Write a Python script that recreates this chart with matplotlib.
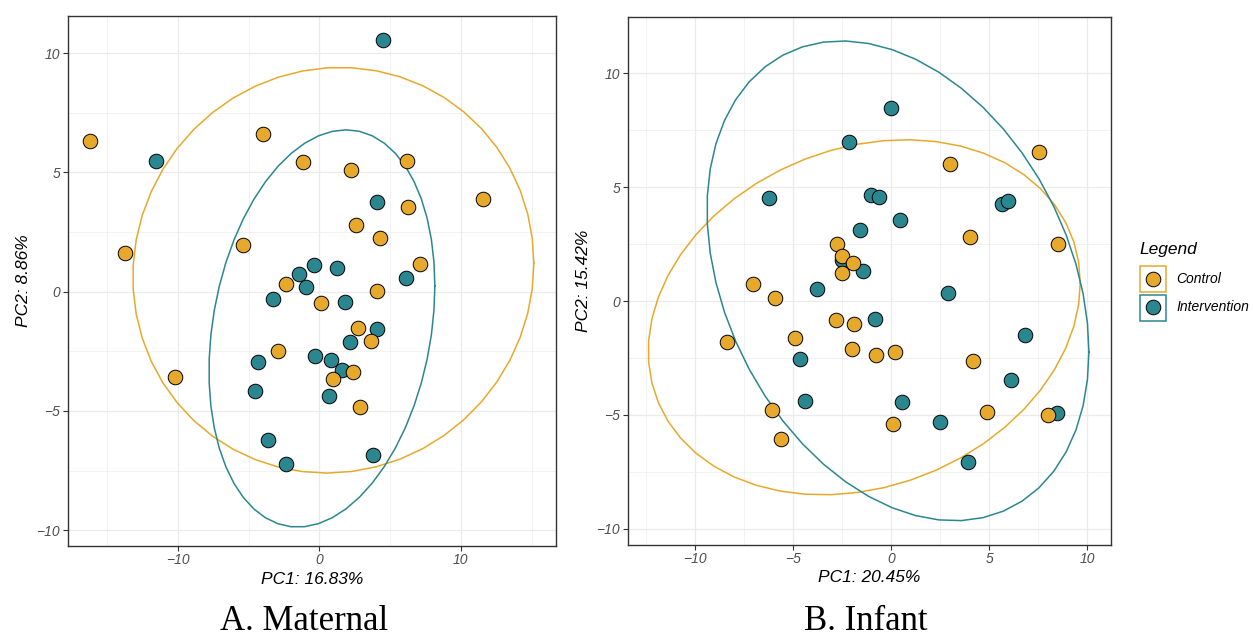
import numpy as np
import matplotlib
matplotlib.use("Agg")
import matplotlib.pyplot as plt
from matplotlib.patches import Rectangle
from matplotlib.lines import Line2D

# groups
groups = ["Control", "Intervention"]
colors = {"Control": "#E7A92B", "Intervention": "#2B878F"}

# A. Maternal - PCA scores
mat_ctrl_x = [-16.24, -3.98, -13.78, -1.17, 2.21, 6.17, 11.6, 6.29, 2.59, 4.26, -5.41,
              7.13, -2.34, 4.04, 0.08, 2.72, 3.63, -2.94, 2.39, 0.94, -10.2, 2.84]
mat_ctrl_y = [6.31, 6.63, 1.64, 5.43, 5.09, 5.5, 3.87, 3.54, 2.8, 2.24, 1.95,
              1.17, 0.34, 0.02, -0.47, -1.54, -2.08, -2.47, -3.38, -3.68, -3.58, -4.84]
mat_int_x = [4.53, -11.58, 4.1, -0.38, 1.22, -1.42, 6.13, -0.94, -3.27, 1.8, 4.07,
             2.13, -0.3, -4.31, 0.81, 1.62, -4.56, 0.71, -3.6, -2.33, 3.82]
mat_int_y = [10.56, 5.47, 3.78, 1.13, 1.01, 0.73, 0.56, 0.2, -0.31, -0.45, -1.56,
             -2.11, -2.7, -2.95, -2.87, -3.27, -4.18, -4.39, -6.21, -7.21, -6.86]

# B. Infant
inf_ctrl_x = [7.56, 3.0, 4.01, 8.52, -2.75, -2.5, -1.92, -2.5, -7.01, -5.93, -2.82, -1.87,
              -8.37, -4.88, -1.99, -0.75, 0.19, 4.18, -6.06, -5.59, 0.12, 4.89, 7.98]
inf_ctrl_y = [6.54, 6.03, 2.8, 2.52, 2.49, 1.96, 1.67, 1.22, 0.75, 0.12, -0.85, -1.02,
              -1.79, -1.64, -2.11, -2.36, -2.23, -2.64, -4.79, -6.07, -5.42, -4.87, -4.99]
inf_int_x = [-0.02, -2.15, -6.23, -1.03, -0.63, 0.44, 5.64, 5.96, -1.6, -2.5, -1.43,
             -3.75, 2.92, -0.83, -4.62, 6.84, 6.13, -4.4, 0.56, 2.5, 8.44, 3.92]
inf_int_y = [8.49, 6.98, 4.51, 4.67, 4.57, 3.56, 4.25, 4.39, 3.12, 1.79, 1.32,
             0.54, 0.34, -0.79, -2.53, -1.49, -3.47, -4.41, -4.45, -5.3, -4.93, -7.08]

panels = [
    {"title": "A. Maternal", "xlabel": "PC1: 16.83%", "ylabel": "PC2: 8.86%",
     "Control": (mat_ctrl_x, mat_ctrl_y), "Intervention": (mat_int_x, mat_int_y),
     "xlim": (-17.79, 16.73), "ylim": (-10.65, 11.56),
     "xticks": [-10, 0, 10], "xminor": [-15, -5, 5, 15],
     "yticks": [-10, -5, 0, 5, 10], "yminor": [-7.5, -2.5, 2.5, 7.5],
     "pos": [67.8, 16, 556, 545.7], "title_x": 304},
    {"title": "B. Infant", "xlabel": "PC1: 20.45%", "ylabel": "PC2: 15.42%",
     "Control": (inf_ctrl_x, inf_ctrl_y), "Intervention": (inf_int_x, inf_int_y),
     "xlim": (-13.41, 11.21), "ylim": (-10.69, 12.46),
     "xticks": [-10, -5, 0, 5, 10], "xminor": [-12.5, -7.5, -2.5, 2.5, 7.5],
     "yticks": [-10, -5, 0, 5, 10], "yminor": [-7.5, -2.5, 2.5, 7.5],
     "pos": [627.7, 17.3, 1111, 544.5], "title_x": 866},
]


def cov_trob(xy, nu=5, maxit=25, tol=0.01):
    # same iteration as MASS::cov.trob, which stat_ellipse uses
    n, p = xy.shape
    loc = xy.mean(axis=0)
    w = np.ones(n)
    for _ in range(maxit):
        w0 = w
        X = xy - loc
        U, d, Vt = np.linalg.svd(np.sqrt(w / w.sum())[:, None] * X, full_matrices=False)
        wX = X @ Vt.T / d
        Q = (wX ** 2).sum(axis=1)
        w = (nu + p) / (nu + Q)
        loc = (w[:, None] * xy).sum(axis=0) / w.sum()
        if np.all(np.abs(w - w0) < tol):
            break
    sX = np.sqrt(w)[:, None] * X
    return loc, sX.T @ sX / n


def ellipse(x, y, level=0.95, segments=51):
    xy = np.column_stack([x, y])
    n = len(x)
    center, shape = cov_trob(xy)
    dfd = n - 1
    qf = dfd / 2 * ((1 - level) ** (-2 / dfd) - 1)  # F quantile, dfn = 2
    radius = np.sqrt(2 * qf)
    t = np.linspace(0, 2 * np.pi, segments + 1)
    unit = np.column_stack([np.cos(t), np.sin(t)])
    R = np.linalg.cholesky(shape).T
    pts = center + radius * unit @ R
    return pts[:, 0], pts[:, 1]


W, H = 1253, 639
fig = plt.figure(figsize=(W / 100, H / 100), dpi=100)
sans = "Liberation Sans"

for p in panels:
    l, t, r, b = p["pos"]
    ax = fig.add_axes([l / W, 1 - b / H, (r - l) / W, (b - t) / H])
    ax.set_xlim(p["xlim"])
    ax.set_ylim(p["ylim"])
    ax.set_xticks(p["xticks"])
    ax.set_xticks(p["xminor"], minor=True)
    ax.set_yticks(p["yticks"])
    ax.set_yticks(p["yminor"], minor=True)
    ax.grid(which="major", color="#EBEBEB", linewidth=0.9)
    ax.grid(which="minor", color="#EBEBEB", linewidth=0.45)
    ax.set_axisbelow(True)
    for s in ax.spines.values():
        s.set_color("#333333")
        s.set_linewidth(1.0)
    ax.tick_params(which="major", length=3.5, width=0.8, color="#333333",
                   labelcolor="#4D4D4D", labelsize=10, pad=2)
    ax.tick_params(which="minor", length=0)
    for lab in ax.get_xticklabels() + ax.get_yticklabels():
        lab.set_fontstyle("italic")
        lab.set_family(sans)

    for g in groups:
        gx, gy = p[g]
        ex, ey = ellipse(gx, gy)
        ax.plot(ex, ey, color=colors[g], linewidth=1.1, zorder=2)
    for g in ["Intervention", "Control"]:
        gx, gy = p[g]
        ax.scatter(gx, gy, s=110, c=colors[g], edgecolors="black", linewidths=0.7, zorder=3)

    ax.set_xlabel(p["xlabel"], fontsize=12.5, style="italic", family=sans, labelpad=3)
    ax.set_ylabel(p["ylabel"], fontsize=12.5, style="italic", family=sans, labelpad=4)
    fig.text(p["title_x"] / W, 1 - 622 / H, p["title"], ha="center", va="center",
             fontsize=25, family="Liberation Serif")

# legend drawn by hand so every key gets its own coloured box
fig.text(1139 / W, 1 - 249 / H, "Legend", fontsize=12.5, style="italic", family=sans,
         ha="left", va="center")
for i, g in enumerate(groups):
    cy = 279 + i * 28.5
    fig.add_artist(Rectangle((1139.5 / W, 1 - (cy + 13) / H), 26 / W, 26 / H,
                             transform=fig.transFigure, facecolor="white",
                             edgecolor=colors[g], linewidth=1.1))
    fig.add_artist(Line2D([1152.5 / W], [1 - cy / H], transform=fig.transFigure,
                          marker="o", markersize=10.5, markerfacecolor=colors[g],
                          markeredgecolor="black", markeredgewidth=0.7, linestyle="none"))
    fig.text(1176 / W, 1 - cy / H, g, fontsize=10, style="italic", family=sans,
             ha="left", va="center")

fig.savefig("out.png", dpi=100)
